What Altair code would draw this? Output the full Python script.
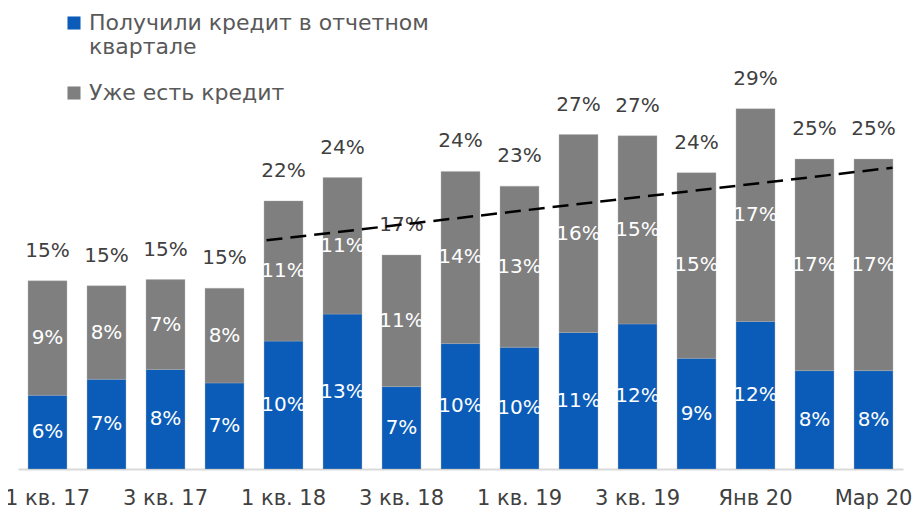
import altair as alt
import pandas as pd

categories = ["1 кв. 17", "2 кв. 17", "3 кв. 17", "4 кв. 17",
              "1 кв. 18", "2 кв. 18", "3 кв. 18", "4 кв. 18",
              "1 кв. 19", "2 кв. 19", "3 кв. 19", "4 кв. 19",
              "Янв 20", "Фев 20", "Мар 20"]
new_credit = [6.0, 7.3, 8.1, 7.0, 10.4, 12.6, 6.7, 10.2, 9.9, 11.1, 11.8, 9.0, 12.0, 8.0, 8.0]
existing_credit = [9.3, 7.6, 7.3, 7.7, 11.4, 11.1, 10.7, 14.0, 13.1, 16.1, 15.3, 15.1, 17.3, 17.2, 17.2]
shown_ticks = ["1 кв. 17", "3 кв. 17", "1 кв. 18", "3 кв. 18",
               "1 кв. 19", "3 кв. 19", "Янв 20", "Мар 20"]
series_names = ["Получили кредит в отчетном квартале", "Уже есть кредит"]
series_colors = ["#0a5cb8", "#7f7f7f"]
trend_cats = ["1 кв. 18", "Мар 20"]
trend_vals = [18.6, 24.5]

FONT = "DejaVu Sans"

rows = []
for i, c in enumerate(categories):
    rows.append({"cat": c, "series": series_names[0], "order": 0, "value": new_credit[i]})
    rows.append({"cat": c, "series": series_names[1], "order": 1, "value": existing_credit[i]})
df = pd.DataFrame(rows)

trend = pd.DataFrame({"c0": [trend_cats[0]], "c1": [trend_cats[1]],
                      "v0": [trend_vals[0]], "v1": [trend_vals[1]]})

xscale = alt.Scale(domain=categories, paddingInner=0.34, paddingOuter=0.17)
yscale = alt.Scale(domain=[0, 37], nice=False)

base = alt.Chart(df).transform_stack(
    stack="value", groupby=["cat"], as_=["s0", "s1"],
    sort=[alt.SortField("order", order="ascending")]
).transform_calculate(
    mid="(datum.s0 + datum.s1) / 2",
    label="format(datum.value, '.0f') + '%'"
)

xenc = alt.X("cat:N", scale=xscale, title=None,
             axis=alt.Axis(values=shown_ticks, labelAngle=0, ticks=False,
                           labelPadding=18, labelFont=FONT, labelFontSize=21,
                           labelColor="#404040", domainColor="#d9d9d9",
                           domainWidth=2, labelOverlap=False, labelBound=False,
                           labelFlush=False, grid=False))

bars = base.mark_bar(stroke="#b0b0b0", strokeWidth=0.6, strokeOpacity=0.6).encode(
    x=xenc,
    y=alt.Y("s0:Q", scale=yscale, axis=None),
    y2="s1:Q",
    color=alt.Color("series:N",
                    scale=alt.Scale(domain=series_names, range=series_colors),
                    legend=alt.Legend(
                        title=None, orient="none", legendX=45, legendY=-2,
                        symbolType="square", symbolSize=170, symbolStrokeWidth=0,
                        labelFont=FONT, labelFontSize=22, labelColor="#595959",
                        labelOffset=4, rowPadding=24, labelLimit=600,
                        labelExpr="datum.label == 'Получили кредит в отчетном квартале' ? ['Получили кредит в отчетном', 'квартале'] : datum.label"
                    )),
)

seg_labels = base.mark_text(font=FONT, fontSize=20, color="white",
                            baseline="middle", align="center").encode(
    x=alt.X("cat:N", scale=xscale),
    y=alt.Y("mid:Q", scale=yscale),
    text="label:N",
)

totals = alt.Chart(df).transform_aggregate(
    total="sum(value)", groupby=["cat"]
).transform_calculate(
    tlabel="format(datum.total, '.0f') + '%'"
).mark_text(font=FONT, fontSize=20, color="#404040", baseline="alphabetic",
            align="center", dy=-24).encode(
    x=alt.X("cat:N", scale=xscale),
    y=alt.Y("total:Q", scale=yscale),
    text="tlabel:N",
)

trend_line = alt.Chart(trend).mark_rule(
    color="black", strokeWidth=2.5, strokeDash=[16, 8], xOffset=-17, x2Offset=19
).encode(
    x=alt.X("c0:N", scale=xscale),
    x2="c1:N",
    y=alt.Y("v0:Q", scale=yscale),
    y2="v1:Q",
)

chart = alt.layer(bars, seg_labels, totals, trend_line).properties(
    width=885, height=455,
    autosize=alt.AutoSizeParams(type="none"),
    padding={"left": 10, "top": 6, "right": 9, "bottom": 42},
).configure_view(stroke=None)

chart.save("out.html", embed_options={"renderer": "svg", "actions": False})
